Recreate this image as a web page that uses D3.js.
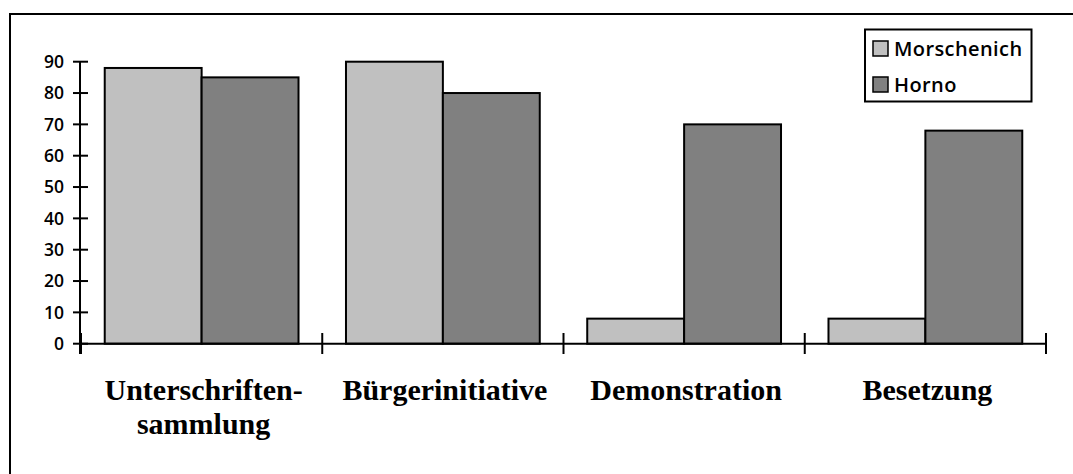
<!DOCTYPE html>
<html>
<head>
<meta charset="utf-8">
<script src="https://cdn.jsdelivr.net/npm/d3@7"></script>
<style>
  body { margin: 0; background: #fff; }
  svg { display: block; }
</style>
</head>
<body>
<svg></svg>
<script>
var width = 1073;
var height = 474;

// data
var categories = [["Unterschriften-", "sammlung"], ["Bürgerinitiative"], ["Demonstration"], ["Besetzung"]];
var series = ["Morschenich", "Horno"];
var morschenich = [88, 90, 8, 8];
var horno = [85, 80, 70, 68];
var yTicks = [0, 10, 20, 30, 40, 50, 60, 70, 80, 90];
var colors = ["#c0c0c0", "#808080"];

var svg = d3.select("svg")
    .attr("width", width)
    .attr("height", height);

// outer frame (top + left only visible)
svg.append("path")
    .attr("d", "M10," + height + "V14H" + width)
    .attr("fill", "none")
    .attr("stroke", "#000")
    .attr("stroke-width", 2);

var x0 = d3.scaleBand()
    .domain(d3.range(categories.length))
    .range([81, 1046])
    .padding(0);

var x1 = d3.scaleBand()
    .domain(series)
    .range([0, x0.bandwidth()])
    .paddingInner(0)
    .paddingOuter(0.245);

var y = d3.scaleLinear()
    .domain([0, 90])
    .range([343.7, 61.7]);

var values = [morschenich, horno];

// bars
var groups = svg.append("g").selectAll("g")
    .data(categories)
    .enter().append("g")
    .attr("transform", function(d, i) { return "translate(" + x0(i) + ",0)"; });

groups.selectAll("rect")
    .data(function(d, i) {
        return series.map(function(s, j) { return {key: s, value: values[j][i], idx: j}; });
    })
    .enter().append("rect")
    .attr("x", function(d) { return x1(d.key); })
    .attr("y", function(d) { return y(d.value); })
    .attr("width", x1.bandwidth())
    .attr("height", function(d) { return y(0) - y(d.value); })
    .attr("fill", function(d) { return colors[d.idx]; })
    .attr("stroke", "#000")
    .attr("stroke-width", 2);

// y axis
var yAxis = svg.append("g");
yAxis.append("line")
    .attr("x1", 80).attr("x2", 80)
    .attr("y1", y(90)).attr("y2", 354)
    .attr("stroke", "#000").attr("stroke-width", 2);
yAxis.selectAll(".ytick")
    .data(yTicks)
    .enter().append("line")
    .attr("x1", 73).attr("x2", 88)
    .attr("y1", function(d) { return y(d); })
    .attr("y2", function(d) { return y(d); })
    .attr("stroke", "#000").attr("stroke-width", 2);
yAxis.selectAll(".ylab")
    .data(yTicks)
    .enter().append("text")
    .attr("x", 64)
    .attr("y", function(d) { return y(d); })
    .attr("dy", "0.36em")
    .attr("text-anchor", "end")
    .style("font-family", "'Open Sans', sans-serif")
    .style("font-weight", 600)
    .style("font-size", "17.5px")
    .text(function(d) { return d; });

// x axis
var xAxis = svg.append("g");
xAxis.append("line")
    .attr("x1", 80).attr("x2", 1046)
    .attr("y1", y(0)).attr("y2", y(0))
    .attr("stroke", "#000").attr("stroke-width", 2);
xAxis.selectAll(".xtick")
    .data(d3.range(categories.length + 1))
    .enter().append("line")
    .attr("x1", function(i) { return i < categories.length ? x0(i) : x0.range()[1]; })
    .attr("x2", function(i) { return i < categories.length ? x0(i) : x0.range()[1]; })
    .attr("y1", 333).attr("y2", 354)
    .attr("stroke", "#000").attr("stroke-width", 2);

xAxis.selectAll(".xlab")
    .data(categories)
    .enter().append("text")
    .attr("x", function(d, i) { return x0(i) + x0.bandwidth() / 2 + 2; })
    .attr("y", 400)
    .attr("text-anchor", "middle")
    .style("font-family", "'Liberation Serif', 'Times New Roman', serif")
    .style("font-weight", "bold")
    .style("font-size", "30px")
    .each(function(d) {
        var t = d3.select(this);
        d.forEach(function(line, k) {
            t.append("tspan")
                .attr("x", t.attr("x"))
                .attr("dy", k === 0 ? 0 : 34)
                .text(line);
        });
    });

// legend
var legend = svg.append("g");
legend.append("rect")
    .attr("x", 865).attr("y", 29.5)
    .attr("width", 166.5).attr("height", 72)
    .attr("fill", "#fff")
    .attr("stroke", "#000").attr("stroke-width", 2);

var items = legend.selectAll(".item")
    .data(series)
    .enter().append("g")
    .attr("transform", function(d, i) { return "translate(873," + (41 + i * 36) + ")"; });

items.append("rect")
    .attr("width", 15).attr("height", 15)
    .attr("fill", function(d, i) { return colors[i]; })
    .attr("stroke", "#000").attr("stroke-width", 1.5);

items.append("text")
    .attr("x", 21)
    .attr("y", 14.5)
    .style("font-family", "'Open Sans', sans-serif")
    .style("font-weight", 600)
    .style("font-size", "20px")
    .style("letter-spacing", "0.4px")
    .text(function(d) { return d; });
</script>
</body>
</html>
